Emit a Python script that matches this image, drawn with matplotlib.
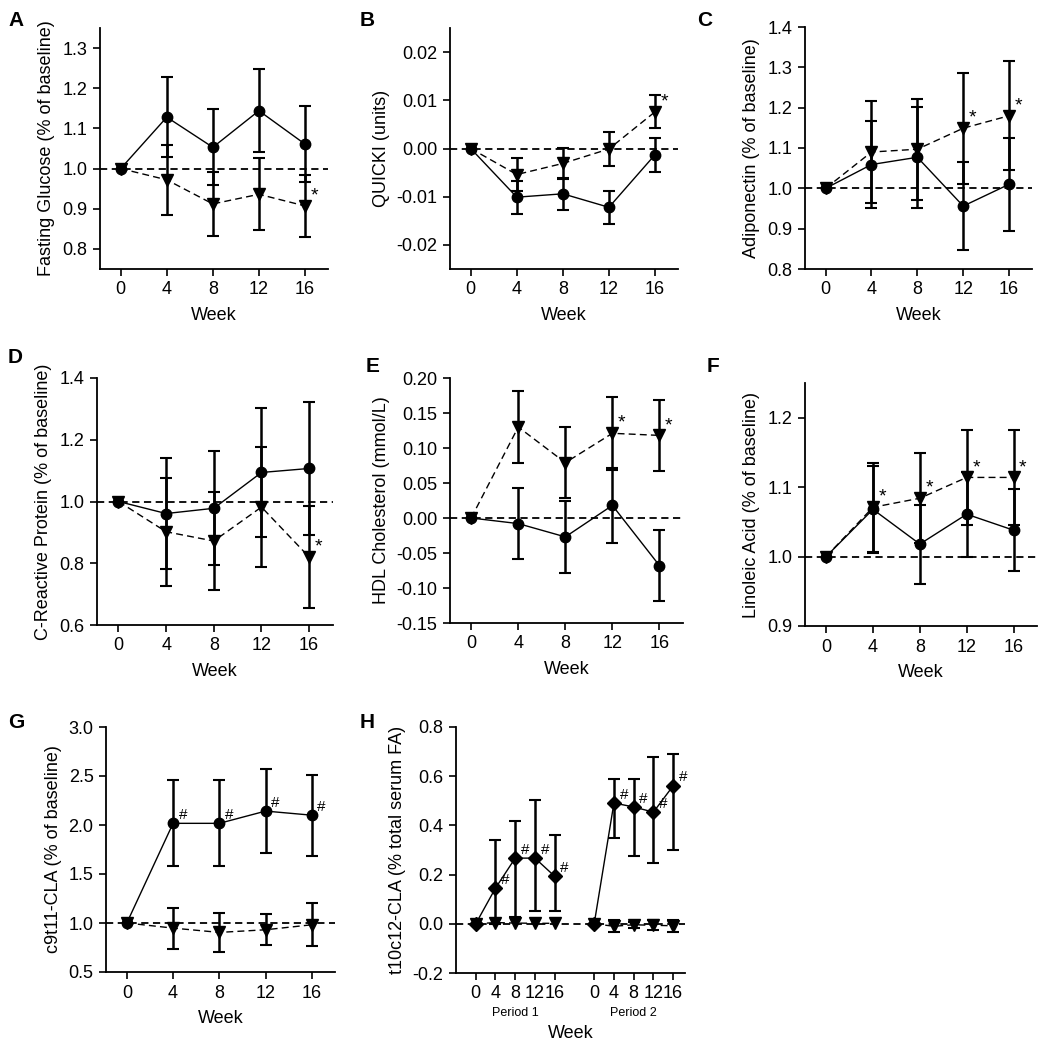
import numpy as np
import matplotlib
matplotlib.use("Agg")
import matplotlib.pyplot as plt

plt.rcParams["font.family"] = ["Liberation Sans", "DejaVu Sans"]

weeks = [0, 4, 8, 12, 16]

# A fasting glucose (ratio to baseline)
glu_circ = [1.0, 1.128, 1.053, 1.144, 1.061]
glu_circ_err = [0, 0.100, 0.095, 0.103, 0.095]
glu_tri = [1.0, 0.972, 0.912, 0.936, 0.907]
glu_tri_err = [0, 0.087, 0.080, 0.090, 0.078]

# B QUICKI
qui_circ = [0.0, -0.0101, -0.0094, -0.0122, -0.0013]
qui_circ_err = [0, 0.0034, 0.0033, 0.0034, 0.0035]
qui_tri = [0.0, -0.0054, -0.0031, -0.0001, 0.0076]
qui_tri_err = [0, 0.0034, 0.0033, 0.0036, 0.0034]

# C adiponectin
adi_circ = [1.0, 1.059, 1.077, 0.956, 1.010]
adi_circ_err = [0, 0.108, 0.125, 0.110, 0.115]
adi_tri = [1.0, 1.090, 1.097, 1.149, 1.180]
adi_tri_err = [0, 0.127, 0.125, 0.138, 0.135]

# D C-reactive protein
crp_circ = [1.0, 0.961, 0.978, 1.094, 1.107]
crp_circ_err = [0, 0.180, 0.185, 0.210, 0.215]
crp_tri = [1.0, 0.902, 0.872, 0.982, 0.820]
crp_tri_err = [0, 0.175, 0.160, 0.195, 0.165]

# E HDL cholesterol
hdl_circ = [0.0, -0.008, -0.027, 0.018, -0.068]
hdl_circ_err = [0, 0.051, 0.051, 0.053, 0.051]
hdl_tri = [0.0, 0.130, 0.079, 0.121, 0.118]
hdl_tri_err = [0, 0.051, 0.051, 0.052, 0.051]

# F linoleic acid
lin_circ = [1.0, 1.068, 1.018, 1.061, 1.038]
lin_circ_err = [0, 0.063, 0.057, 0.061, 0.059]
lin_tri = [1.0, 1.071, 1.084, 1.114, 1.114]
lin_tri_err = [0, 0.064, 0.065, 0.068, 0.068]

# G c9t11-CLA
c9_circ = [1.0, 2.017, 2.017, 2.142, 2.100]
c9_circ_err = [0, 0.44, 0.44, 0.43, 0.415]
c9_tri = [1.0, 0.948, 0.904, 0.931, 0.982]
c9_tri_err = [0, 0.21, 0.195, 0.16, 0.22]

# H t10c12-CLA, two periods
h_ticklabels = ["0", "4", "8", "12", "16"]
h_p1_circ = [0.0, 0.145, 0.267, 0.267, 0.193]
h_p1_circ_lo = [0, 0.145, 0.240, 0.214, 0.140]
h_p1_circ_hi = [0, 0.194, 0.152, 0.236, 0.166]
h_p2_circ = [0.0, 0.491, 0.475, 0.454, 0.561]
h_p2_circ_lo = [0, 0.143, 0.198, 0.205, 0.260]
h_p2_circ_hi = [0, 0.097, 0.113, 0.224, 0.128]
h_p1_tri = [0.0, 0.005, 0.003, 0.002, 0.002]
h_p2_tri = [0.0, -0.010, -0.004, -0.006, -0.008]
h_p2_tri_err = [0, 0.025, 0.012, 0.020, 0.025]

W, H = 1046, 1050
fig = plt.figure(figsize=(W / 100, H / 100), dpi=100)

FS = 13
DASH = (0, (5, 3))


def make_ax(l, t, r, b):
    ax = fig.add_axes([l / W, 1 - b / H, (r - l) / W, (b - t) / H])
    for s in ["top", "right"]:
        ax.spines[s].set_visible(False)
    for s in ["left", "bottom"]:
        ax.spines[s].set_linewidth(1.3)
    ax.tick_params(direction="out", length=5, width=1.2, labelsize=FS, pad=4)
    return ax


def draw_series(ax, x, y, lo, hi, solid, mk="o"):
    x = np.asarray(x, float)
    y = np.asarray(y, float)
    lo = np.asarray(lo, float)
    hi = np.asarray(hi, float)
    m = (lo > 0) | (hi > 0)
    ax.errorbar(x[m], y[m], yerr=[lo[m], hi[m]], fmt="none", ecolor="k",
                elinewidth=1.8, capsize=4, capthick=1.5, zorder=2)
    if solid:
        ax.plot(x, y, color="k", lw=1, marker=mk, ms=7.5 if mk == "o" else 7, zorder=3)
    else:
        ax.plot(x, y, color="k", lw=1, ls=DASH, marker="v", ms=8, zorder=3)


def mark(ax, x, y, txt):
    ax.annotate(txt, (x, y), xytext=(4, 1), textcoords="offset points",
                fontsize=14 if txt == "*" else 11, ha="left", va="bottom")


def panel(rect, ylim, yticks, fmt, ylabel, base, circ, circ_err, tri, tri_err,
          starred, sym="*", on_tri=True):
    ax = make_ax(*rect)
    ax.axhline(base, color="k", lw=1.3, ls=(0, (4, 2.5)), zorder=1)
    draw_series(ax, weeks, circ, circ_err, circ_err, True)
    draw_series(ax, weeks, tri, tri_err, tri_err, False)
    for w in starred:
        i = weeks.index(w)
        mark(ax, w, tri[i] if on_tri else circ[i], sym)
    ax.set_xlim(-1.8, 18)
    ax.set_xticks(weeks)
    ax.set_ylim(*ylim)
    ax.set_yticks(yticks)
    ax.set_yticklabels([fmt % v for v in yticks])
    ax.set_xlabel("Week", fontsize=FS, labelpad=6)
    ax.set_ylabel(ylabel, fontsize=FS, labelpad=5)
    return ax


panel((100, 28, 328, 269), (0.75, 1.35), [0.8, 0.9, 1.0, 1.1, 1.2, 1.3], "%.1f",
      "Fasting Glucose (% of baseline)", 1.0,
      glu_circ, glu_circ_err, glu_tri, glu_tri_err, [16])

panel((450, 28, 678, 269), (-0.025, 0.025), [-0.02, -0.01, 0.0, 0.01, 0.02], "%.2f",
      "QUICKI (units)", 0.0,
      qui_circ, qui_circ_err, qui_tri, qui_tri_err, [16])

panel((805, 27, 1032, 269), (0.8, 1.4), [0.8, 0.9, 1.0, 1.1, 1.2, 1.3, 1.4], "%.1f",
      "Adiponectin (% of baseline)", 1.0,
      adi_circ, adi_circ_err, adi_tri, adi_tri_err, [12, 16])

panel((97, 378, 333, 625), (0.6, 1.4), [0.6, 0.8, 1.0, 1.2, 1.4], "%.1f",
      "C-Reactive Protein (% of baseline)", 1.0,
      crp_circ, crp_circ_err, crp_tri, crp_tri_err, [16])

panel((450, 378, 683, 623), (-0.15, 0.20),
      [-0.15, -0.10, -0.05, 0.0, 0.05, 0.10, 0.15, 0.20], "%.2f",
      "HDL Cholesterol (mmol/L)", 0.0,
      hdl_circ, hdl_circ_err, hdl_tri, hdl_tri_err, [12, 16])

panel((805, 383, 1037, 626), (0.9, 1.25), [0.9, 1.0, 1.1, 1.2], "%.1f",
      "Linoleic Acid (% of baseline)", 1.0,
      lin_circ, lin_circ_err, lin_tri, lin_tri_err, [4, 8, 12, 16])

panel((106, 727, 335, 972), (0.5, 3.0), [0.5, 1.0, 1.5, 2.0, 2.5, 3.0], "%.1f",
      "c9t11-CLA (% of baseline)", 1.0,
      c9_circ, c9_circ_err, c9_tri, c9_tri_err, [4, 8, 12, 16], sym="#", on_tri=False)

# panel H
ax = make_ax(456, 727, 685, 973)
ax.axhline(0.0, color="k", lw=1.3, ls=(0, (4, 2.5)), zorder=1)
p1_x = [0, 1, 2, 3, 4]
p2_x = [6, 7, 8, 9, 10]
draw_series(ax, p1_x, h_p1_circ, h_p1_circ_lo, h_p1_circ_hi, True, mk="D")
draw_series(ax, p2_x, h_p2_circ, h_p2_circ_lo, h_p2_circ_hi, True, mk="D")
draw_series(ax, p1_x, h_p1_tri, [0] * 5, [0] * 5, False)
draw_series(ax, p2_x, h_p2_tri, h_p2_tri_err, h_p2_tri_err, False)
for i in range(1, 5):
    mark(ax, p1_x[i], h_p1_circ[i], "#")
    mark(ax, p2_x[i], h_p2_circ[i], "#")
ax.set_xlim(-1, 10.6)
ax.set_xticks(p1_x + p2_x)
ax.set_xticklabels(h_ticklabels * 2)
ax.set_ylim(-0.2, 0.8)
ax.set_yticks([-0.2, 0.0, 0.2, 0.4, 0.6, 0.8])
ax.set_yticklabels(["%.1f" % v for v in [-0.2, 0.0, 0.2, 0.4, 0.6, 0.8]])
ax.set_ylabel("t10c12-CLA (% total serum FA)", fontsize=FS, labelpad=5)
ax.set_xlabel("Week", fontsize=FS, labelpad=16)
tr = ax.get_xaxis_transform()
ax.text(2, -0.14, "Period 1", transform=tr, ha="center", va="top", fontsize=9)
ax.text(8, -0.14, "Period 2", transform=tr, ha="center", va="top", fontsize=9)

letters = [("A", 16, 21), ("B", 367, 21), ("C", 705, 21), ("D", 15, 357),
           ("E", 373, 366), ("F", 713, 367), ("G", 16, 722), ("H", 367, 723)]
for s, x, y in letters:
    fig.text(x / W, 1 - y / H, s, fontsize=15, fontweight="bold",
             ha="center", va="center")

fig.savefig("out.png", dpi=100)
